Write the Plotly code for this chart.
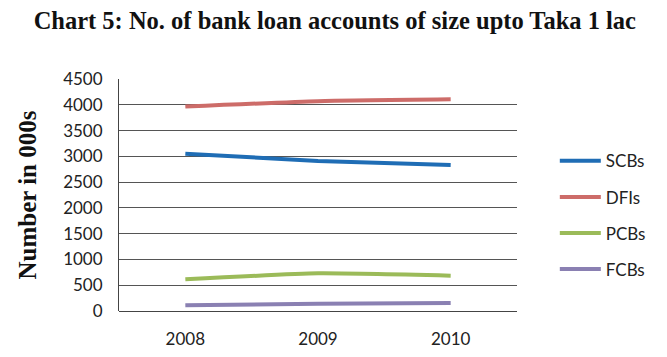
import plotly.graph_objects as go

years = ["2008", "2009", "2010"]
series_names = ["SCBs", "DFIs", "PCBs", "FCBs"]
scbs = [3050, 2910, 2830]
dfis = [3965, 4070, 4105]
pcbs = [615, 730, 685]
fcbs = [110, 140, 155]
colors = ["#1F6DB5", "#CD6C69", "#9BBB59", "#8A80B2"]
y_ticks = [0, 500, 1000, 1500, 2000, 2500, 3000, 3500, 4000, 4500]

fig = go.Figure()
for i, (name, vals) in enumerate(zip(series_names, [scbs, dfis, pcbs, fcbs])):
    fig.add_trace(go.Scatter(
        x=[0, 1, 2], y=vals, name=name, mode="lines",
        line=dict(color=colors[i], width=4, shape="spline", smoothing=0.5),
        legendgroup=name,
    ))

fig.update_layout(
    width=667, height=357,
    margin=dict(l=119, r=150, t=79, b=46, autoexpand=False),
    paper_bgcolor="white", plot_bgcolor="white",
    title=dict(text="<b>Chart 5: No. of bank loan accounts of size upto Taka 1 lac</b>",
               x=0.502, xref="container", xanchor="center", y=0.944, yref="container",
               yanchor="middle",
               font=dict(family="Liberation Serif", size=24.5, color="#111")),
    showlegend=True,
    legend=dict(x=1.095, xanchor="left", y=0.723, yanchor="top",
                font=dict(family="Lato", size=17, color="#222"), itemwidth=41,
                tracegroupgap=11, bgcolor="rgba(0,0,0,0)"),
    xaxis=dict(range=[-0.5, 2.5], tickmode="array", tickvals=[0, 1, 2], ticktext=years,
               showgrid=False, zeroline=False, showline=False, ticks="", automargin=False,
               ticklabelstandoff=16,
               tickfont=dict(family="Lato", size=17, color="#222")),
    yaxis=dict(range=[0, 4500], tickmode="array", tickvals=y_ticks, automargin=False,
               showgrid=True, gridcolor="#555555", gridwidth=1,
               zeroline=True, zerolinecolor="#444444", zerolinewidth=1,
               showline=True, linecolor="#444444", linewidth=1, ticks="",
               ticklabelstandoff=12,
               tickfont=dict(family="Lato", size=17, color="#222"),
               title=dict(text="<b>Number in 000s</b>", standoff=19,
                          font=dict(family="Liberation Serif", size=25, color="#111"))),
)

fig.write_html("out.html", config={"displayModeBar": False},
               post_script="document.body.style.margin='0px';")
